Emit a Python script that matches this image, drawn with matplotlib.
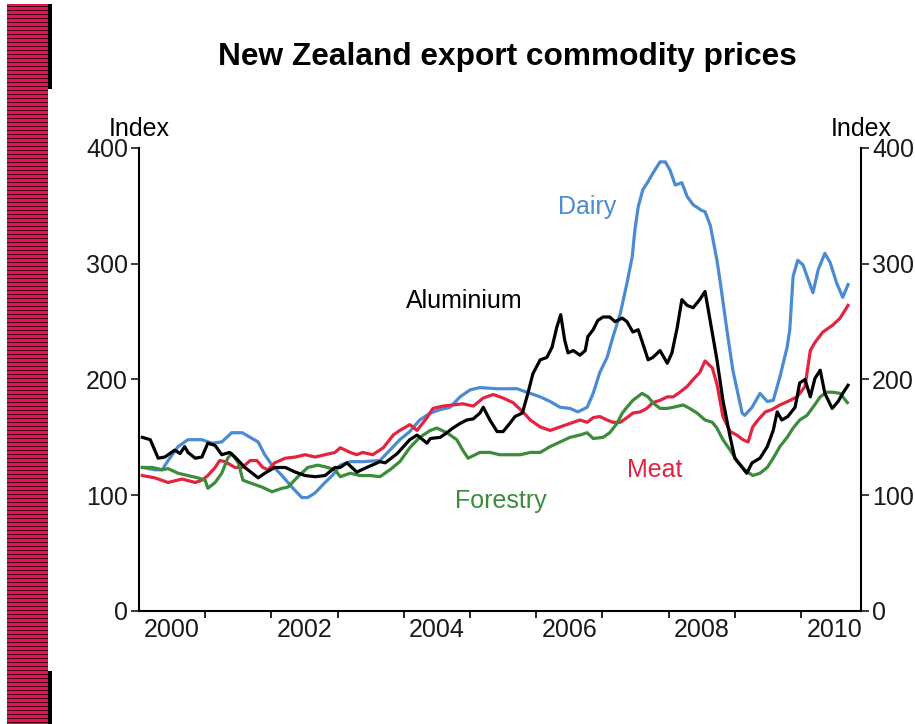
import matplotlib
matplotlib.use('Agg')
import matplotlib.pyplot as plt
from matplotlib.patches import Rectangle
import numpy as np

plt.rcParams['font.family'] = ['Liberation Sans', 'DejaVu Sans']

# Data: (decimal year, index value)
alum_year = [2000.05, 2000.17, 2000.29, 2000.39, 2000.54, 2000.62, 2000.69, 2000.74, 2000.85, 2000.95,
             2001.04, 2001.15, 2001.25, 2001.37, 2001.45, 2001.60, 2001.80, 2001.90, 2002.05, 2002.21,
             2002.36, 2002.51, 2002.66, 2002.81, 2002.96, 2003.04, 2003.14, 2003.29, 2003.44, 2003.64,
             2003.72, 2003.90, 2004.09, 2004.20, 2004.35, 2004.40, 2004.55, 2004.65, 2004.74, 2004.85,
             2004.95, 2005.05, 2005.15, 2005.20, 2005.30, 2005.41, 2005.50, 2005.60, 2005.68, 2005.79,
             2005.86, 2005.95, 2006.06, 2006.16, 2006.24, 2006.31, 2006.37, 2006.43, 2006.48, 2006.56,
             2006.66, 2006.74, 2006.78, 2006.86, 2006.93, 2007.01, 2007.11, 2007.19, 2007.30, 2007.37,
             2007.46, 2007.54, 2007.61, 2007.69, 2007.76, 2007.87, 2007.98, 2008.05, 2008.13, 2008.20,
             2008.28, 2008.37, 2008.47, 2008.55, 2008.63, 2008.73, 2008.82, 2008.93, 2009.00, 2009.11,
             2009.18, 2009.26, 2009.38, 2009.49, 2009.58, 2009.64, 2009.71, 2009.80, 2009.91, 2009.98,
             2010.06, 2010.14, 2010.21, 2010.29, 2010.36, 2010.47, 2010.56, 2010.63, 2010.71]
alum_val = [150, 148, 132, 133, 139, 136, 142, 137, 132, 133,
            145, 143, 135, 137, 133, 124, 115, 119, 124, 124,
            120, 117, 116, 117, 124, 124, 128, 120, 124, 129,
            128, 136, 148, 152, 145, 149, 150, 154, 158, 162,
            165, 166, 171, 176, 165, 155, 155, 162, 168, 171,
            185, 205, 217, 219, 228, 245, 256, 234, 223, 225,
            221, 225, 237, 243, 251, 254, 254, 250, 253, 250,
            241, 243, 231, 217, 219, 225, 214, 223, 245, 269,
            264, 262, 269, 276, 250, 217, 182, 150, 132, 124,
            119, 128, 132, 142, 156, 172, 165, 168, 176, 197,
            200, 185, 201, 208, 188, 175, 181, 188, 195]

dairy_year = [2000.05, 2000.24, 2000.35, 2000.44, 2000.59, 2000.74, 2000.95, 2001.10, 2001.25, 2001.40,
              2001.56, 2001.68, 2001.80, 2001.90, 2002.01, 2002.16, 2002.31, 2002.46, 2002.55, 2002.66,
              2002.81, 2002.92, 2003.04, 2003.19, 2003.38, 2003.64, 2003.79, 2003.94, 2004.09, 2004.24,
              2004.40, 2004.55, 2004.70, 2004.85, 2005.00, 2005.15, 2005.41, 2005.71, 2005.86, 2005.91,
              2006.06, 2006.21, 2006.36, 2006.51, 2006.63, 2006.77, 2006.86, 2006.96, 2007.07, 2007.16,
              2007.27, 2007.37, 2007.45, 2007.49, 2007.54, 2007.61, 2007.69, 2007.76, 2007.87, 2007.95,
              2008.02, 2008.10, 2008.20, 2008.28, 2008.37, 2008.50, 2008.55, 2008.63, 2008.73, 2008.78,
              2008.88, 2008.97, 2009.11, 2009.15, 2009.26, 2009.38, 2009.49, 2009.58, 2009.68, 2009.79,
              2009.83, 2009.88, 2009.95, 2010.03, 2010.11, 2010.18, 2010.26, 2010.36, 2010.44, 2010.54,
              2010.63, 2010.71]
dairy_val = [124, 122, 122, 130, 142, 148, 148, 145, 146, 154,
             154, 150, 146, 135, 126, 117, 107, 98, 98, 102,
             111, 117, 126, 129, 129, 130, 139, 148, 155, 165,
             171, 174, 176, 185, 191, 193, 192, 192, 189, 188,
             185, 181, 176, 175, 172, 176, 188, 206, 219, 237,
             257, 283, 306, 329, 349, 364, 371, 378, 388, 388,
             381, 368, 370, 358, 351, 346, 345, 333, 303, 284,
             243, 208, 171, 169, 176, 188, 181, 182, 202, 228,
             243, 289, 303, 299, 286, 275, 295, 309, 301, 283,
             271, 282]

meat_year = [2000.05, 2000.24, 2000.44, 2000.65, 2000.85, 2000.95, 2001.04, 2001.15, 2001.22, 2001.30,
             2001.45, 2001.56, 2001.68, 2001.78, 2001.87, 2001.95, 2002.05, 2002.21, 2002.36, 2002.51,
             2002.66, 2002.81, 2002.96, 2003.04, 2003.19, 2003.29, 2003.38, 2003.53, 2003.69, 2003.84,
             2003.94, 2004.09, 2004.20, 2004.35, 2004.44, 2004.59, 2004.74, 2004.89, 2005.05, 2005.20,
             2005.35, 2005.50, 2005.65, 2005.80, 2005.91, 2006.06, 2006.21, 2006.36, 2006.51, 2006.66,
             2006.77, 2006.86, 2006.96, 2007.07, 2007.16, 2007.27, 2007.37, 2007.46, 2007.57, 2007.67,
             2007.76, 2007.87, 2007.98, 2008.07, 2008.17, 2008.28, 2008.37, 2008.47, 2008.55, 2008.66,
             2008.73, 2008.82, 2008.93, 2009.03, 2009.12, 2009.20, 2009.27, 2009.35, 2009.46, 2009.56,
             2009.68, 2009.80, 2009.94, 2010.06, 2010.14, 2010.21, 2010.33, 2010.48, 2010.59, 2010.71]
meat_val = [117, 115, 111, 114, 111, 113, 117, 124, 130, 129,
            124, 124, 130, 130, 124, 122, 128, 132, 133, 135,
            133, 135, 137, 141, 137, 135, 137, 135, 141, 152,
            156, 161, 156, 167, 175, 177, 178, 179, 177, 184,
            187, 184, 180, 172, 165, 159, 156, 159, 162, 165,
            163, 167, 168, 165, 163, 163, 167, 171, 172, 175,
            180, 182, 185, 185, 189, 194, 200, 206, 216, 210,
            196, 168, 155, 152, 148, 146, 159, 165, 172, 174,
            178, 181, 185, 194, 225, 232, 241, 247, 253, 264]

forest_year = [2000.05, 2000.20, 2000.35, 2000.44, 2000.59, 2000.74, 2000.89, 2001.00, 2001.04, 2001.15,
               2001.25, 2001.34, 2001.40, 2001.50, 2001.57, 2001.71, 2001.86, 2002.01, 2002.16, 2002.25,
               2002.40, 2002.55, 2002.70, 2002.85, 2002.96, 2003.04, 2003.19, 2003.34, 2003.49, 2003.64,
               2003.79, 2003.94, 2004.09, 2004.24, 2004.40, 2004.50, 2004.65, 2004.80, 2004.89, 2004.97,
               2005.15, 2005.30, 2005.45, 2005.60, 2005.76, 2005.91, 2006.06, 2006.21, 2006.36, 2006.51,
               2006.66, 2006.77, 2006.86, 2007.01, 2007.11, 2007.22, 2007.30, 2007.37, 2007.46, 2007.60,
               2007.69, 2007.76, 2007.87, 2007.98, 2008.07, 2008.22, 2008.32, 2008.43, 2008.55, 2008.66,
               2008.73, 2008.82, 2008.93, 2009.03, 2009.15, 2009.27, 2009.38, 2009.49, 2009.58, 2009.68,
               2009.79, 2009.88, 2009.98, 2010.09, 2010.18, 2010.29, 2010.39, 2010.48, 2010.59, 2010.70]
forest_val = [124, 124, 122, 123, 119, 117, 115, 113, 106, 111,
              119, 132, 136, 128, 113, 110, 107, 103, 106, 107,
              116, 124, 126, 124, 122, 116, 119, 117, 117, 116,
              122, 129, 141, 150, 156, 158, 154, 148, 139, 132,
              137, 137, 135, 135, 135, 137, 137, 142, 146, 150,
              152, 154, 149, 150, 154, 162, 171, 176, 182, 188,
              185, 180, 175, 175, 176, 178, 175, 171, 165, 163,
              158, 148, 139, 130, 122, 117, 119, 124, 132, 142,
              150, 158, 165, 169, 176, 185, 189, 189, 188, 180]

label_years = ['2000', '2002', '2004', '2006', '2008', '2010']

blue = '#4a8bd2'
red = '#e3233f'
green = '#3c8c3c'

fig = plt.figure(figsize=(9.15, 7.24), dpi=100)
ax = fig.add_axes([0.1519, 0.1561, 0.7891, 0.6395])

ax.plot(dairy_year, dairy_val, color=blue, lw=2.3)
ax.plot(meat_year, meat_val, color=red, lw=2.3)
ax.plot(forest_year, forest_val, color=green, lw=2.3)
ax.plot(alum_year, alum_val, color='black', lw=2.3)

ax.set_xlim(2000.0, 2010.906)
ax.set_ylim(0, 400)

# year boundaries as ticks, labels in the middle of each even year
ax.set_xticks(np.arange(2001, 2011))
ax.set_xticklabels([])
ax.set_xticks([int(y) + 0.5 for y in label_years], minor=True)
ax.set_xticklabels(label_years, minor=True)
ax.tick_params(axis='x', which='major', direction='out', length=5, width=1.2)
ax.tick_params(axis='x', which='minor', length=0, pad=5, labelsize=18, colors='#1a1a1a')

ax.set_yticks([0, 100, 200, 300, 400])
ax.tick_params(axis='y', direction='out', length=6, width=1.2, left=True, right=True,
               labelleft=True, labelright=True, labelsize=18, pad=2, colors='#1a1a1a')

for s in ['left', 'right', 'bottom']:
    ax.spines[s].set_linewidth(1.5)
ax.spines['top'].set_visible(False)

ax.text(0.0, 1.04, 'Index', transform=ax.transAxes, ha='center', va='center', fontsize=18)
ax.text(1.0, 1.04, 'Index', transform=ax.transAxes, ha='center', va='center', fontsize=18)

# series labels
ax.text(2006.77, 349, 'Dairy', color=blue, ha='center', va='center', fontsize=18)
ax.text(2004.91, 268, 'Aluminium', color='black', ha='center', va='center', fontsize=18)
ax.text(2007.79, 122, 'Meat', color=red, ha='center', va='center', fontsize=18)
ax.text(2005.47, 95, 'Forestry', color=green, ha='center', va='center', fontsize=18)

fig.text(0.554, 0.921, 'New Zealand export commodity prices', ha='center', va='center',
         fontsize=22.8, fontweight='bold')

# striped crimson bar on the left edge
W, H = 915, 724
fig.add_artist(Rectangle((7 / W, 0), 41 / W, 1 - 4 / H, transform=fig.transFigure,
                         color='#e8104f', lw=0))
for yy in np.arange(6, 724, 4.0):
    fig.add_artist(Rectangle((7 / W, 1 - (yy + 1.3) / H), 41 / W, 1.3 / H,
                             transform=fig.transFigure, color='#3a0018', lw=0))
fig.add_artist(Rectangle((48 / W, 1 - 89 / H), 4 / W, 85 / H, transform=fig.transFigure,
                         color='black', lw=0))
fig.add_artist(Rectangle((48 / W, 0), 4 / W, 53 / H, transform=fig.transFigure,
                         color='black', lw=0))

fig.savefig('out.png', dpi=100)
